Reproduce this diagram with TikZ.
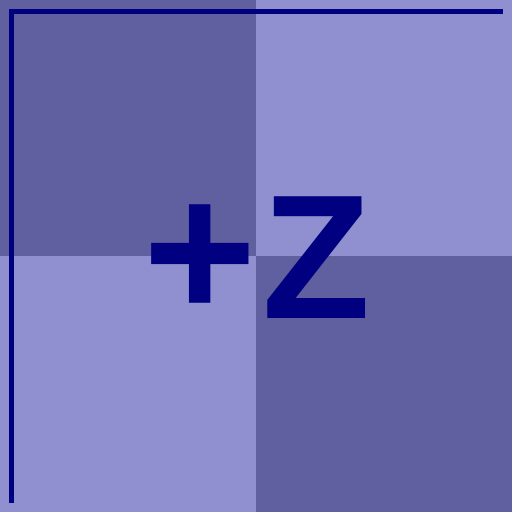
\documentclass[tikz,border=0pt]{standalone}
\usepackage{fontspec}
\newfontfamily\labelfont{Liberation Sans}
\definecolor{tiledark}{HTML}{6060A0}
\definecolor{tilelight}{HTML}{9090D0}
\definecolor{edgenavy}{HTML}{000080}
\tikzset{
  tile/.style={inner sep=0pt,outer sep=0pt,minimum size=256pt,anchor=north west},
  edge/.style={draw=edgenavy,line width=4.5pt,line join=miter},
}
\begin{document}
\begin{tikzpicture}[x=1pt,y=-1pt]
\useasboundingbox (0,0) rectangle (512,512);
\node[tile,fill=tiledark]  (nw) at (0,0) {};
\node[tile,fill=tilelight] (ne) at (256,0) {};
\node[tile,fill=tilelight] (sw) at (0,256) {};
\node[tile,fill=tiledark]  (se) at (256,256) {};
\coordinate (top) at (503,11.5);
\coordinate (corner) at (11.5,11.5);
\coordinate (bottom) at (11.5,503);
\draw[edge] (bottom) -- (corner) -- (top);
% label, baseline on y=318
\node[text=edgenavy,inner sep=0pt,anchor=base west] (face) at (143,318)
  {\labelfont\bfseries{\fontsize{194}{194}\selectfont +}\kern6pt{\fontsize{177}{177}\selectfont Z}};
\end{tikzpicture}
\end{document}
